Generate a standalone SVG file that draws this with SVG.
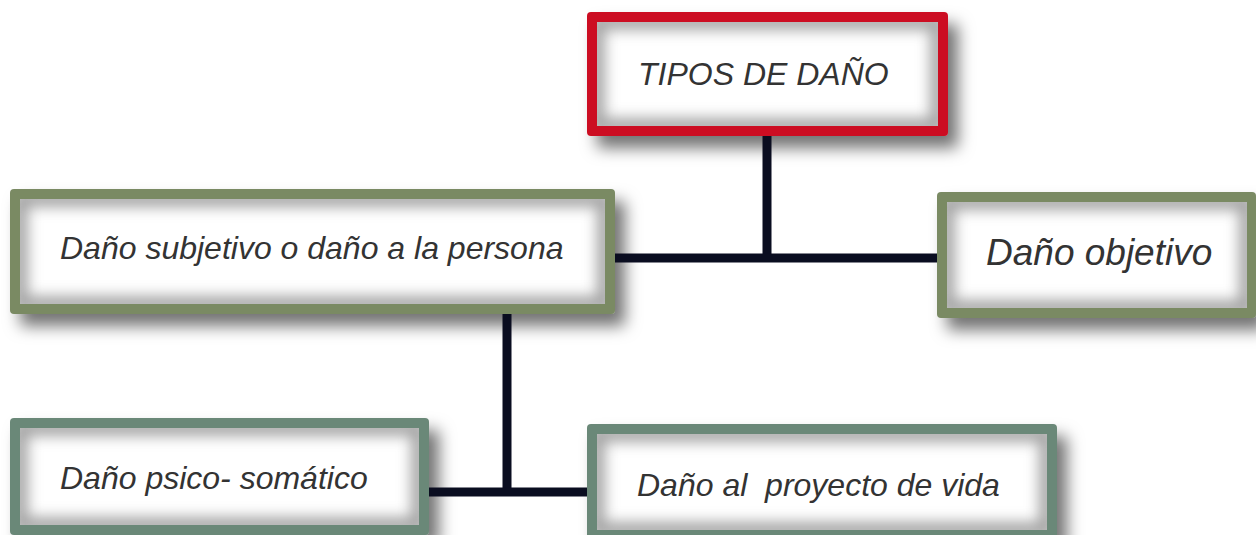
<svg xmlns="http://www.w3.org/2000/svg" width="1256" height="535" viewBox="0 0 1256 535">
<style>
.lbl{font-family:"Liberation Sans",Arial,sans-serif;font-style:italic;fill:#333333;font-size:32px}
.inner{fill:#ffffff}
.bevel{fill:none;stroke:#a4a4a4;stroke-width:16;filter:url(#soft)}
.frame{filter:url(#drop)}
.conn{stroke:#0a0d20;stroke-width:9;fill:none}
</style>
<defs>
<filter id="drop" x="-10%" y="-20%" width="130%" height="160%">
<feDropShadow dx="10" dy="12" stdDeviation="8" flood-color="#000" flood-opacity="0.55"/>
</filter>
<filter id="soft" x="-10%" y="-20%" width="120%" height="140%">
<feGaussianBlur stdDeviation="7"/>
</filter>
<clipPath id="c-tipos"><rect x="597" y="22" width="341" height="104"/></clipPath>
<clipPath id="c-subj"><rect x="20" y="199" width="585" height="105"/></clipPath>
<clipPath id="c-obj"><rect x="947" y="202" width="300" height="106"/></clipPath>
<clipPath id="c-psico"><rect x="20" y="428" width="399" height="97"/></clipPath>
<clipPath id="c-proy"><rect x="597" y="434" width="450" height="96"/></clipPath>
</defs>
<g id="node-tipos">
<rect class="frame" x="587" y="12" width="361" height="124" rx="4" fill="#cc0a20"/>
<rect class="inner" x="597" y="22" width="341" height="104"/>
<g clip-path="url(#c-tipos)"><rect class="bevel" x="597" y="22" width="341" height="104"/></g>
<text class="lbl" x="638" y="85">TIPOS DE DAÑO</text>
</g>
<g id="node-subjetivo">
<rect class="frame" x="10" y="189" width="605" height="125" rx="4" fill="#7a8a64"/>
<rect class="inner" x="20" y="199" width="585" height="105"/>
<g clip-path="url(#c-subj)"><rect class="bevel" x="20" y="199" width="585" height="105"/></g>
<text class="lbl" x="60" y="259">Daño subjetivo o daño a la persona</text>
</g>
<g id="node-objetivo">
<rect class="frame" x="937" y="192" width="319" height="126" rx="4" fill="#7a8a64"/>
<rect class="inner" x="947" y="202" width="300" height="106"/>
<g clip-path="url(#c-obj)"><rect class="bevel" x="947" y="202" width="300" height="106"/></g>
<text class="lbl" x="986" y="265" style="font-size:37px">Daño objetivo</text>
</g>
<g id="node-psico">
<rect class="frame" x="10" y="418" width="419" height="117" rx="4" fill="#6b8878"/>
<rect class="inner" x="20" y="428" width="399" height="97"/>
<g clip-path="url(#c-psico)"><rect class="bevel" x="20" y="428" width="399" height="97"/></g>
<text class="lbl" x="60" y="489">Daño psico- somático</text>
</g>
<g id="node-proyecto">
<rect class="frame" x="587" y="424" width="470" height="116" rx="4" fill="#6b8878"/>
<rect class="inner" x="597" y="434" width="450" height="96"/>
<g clip-path="url(#c-proy)"><rect class="bevel" x="597" y="434" width="450" height="96"/></g>
<text class="lbl" x="637" y="496" xml:space="preserve">Daño al  proyecto de vida</text>
</g>
<g id="connectors">
<line class="conn" x1="767" y1="136" x2="767" y2="258"/>
<line class="conn" x1="615" y1="258" x2="937" y2="258"/>
<line class="conn" x1="507" y1="314" x2="507" y2="492"/>
<line class="conn" x1="429" y1="492" x2="587" y2="492"/>
</g>
</svg>
